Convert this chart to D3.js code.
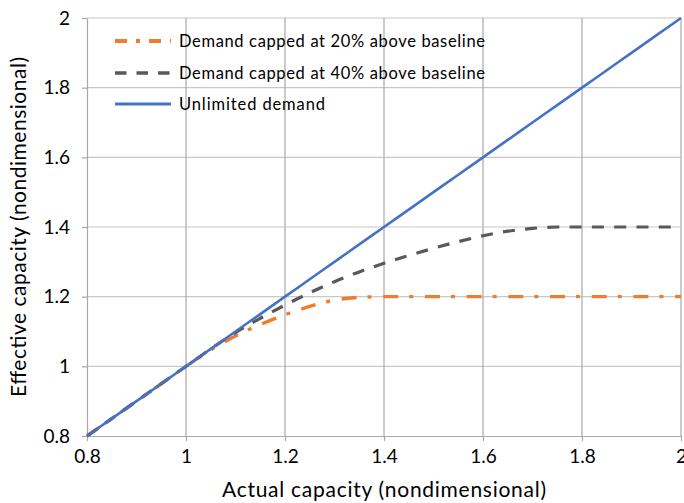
<!DOCTYPE html>
<html>
<head>
<meta charset="utf-8">
<script src="https://cdn.jsdelivr.net/npm/d3@7/dist/d3.min.js"></script>
<style>
  html, body { margin: 0; padding: 0; background: #fff; }
  svg { display: block; font-family: Lato, "Open Sans", sans-serif; }
</style>
</head>
<body>
<svg id="chart" width="684" height="503"></svg>
<script>
// Actual capacity (x) sampled every 0.05
const actualCapacity = [0.8, 0.85, 0.9, 0.95, 1.0, 1.05, 1.1, 1.15, 1.2, 1.25, 1.3, 1.35, 1.4, 1.45, 1.5, 1.55, 1.6, 1.65, 1.7, 1.75, 1.8, 1.85, 1.9, 1.95, 2.0];
// Effective capacity for each demand scenario
const capped20 = [0.8, 0.85, 0.9, 0.95, 1.0, 1.047, 1.087, 1.12, 1.148, 1.172, 1.19, 1.198, 1.2, 1.2, 1.2, 1.2, 1.2, 1.2, 1.2, 1.2, 1.2, 1.2, 1.2, 1.2, 1.2];
const capped40 = [0.8, 0.85, 0.9, 0.95, 1.0, 1.05, 1.097, 1.138, 1.176, 1.211, 1.243, 1.271, 1.296, 1.318, 1.339, 1.358, 1.375, 1.388, 1.396, 1.4, 1.4, 1.4, 1.4, 1.4, 1.4];
const unlimited = [0.8, 0.85, 0.9, 0.95, 1.0, 1.05, 1.1, 1.15, 1.2, 1.25, 1.3, 1.35, 1.4, 1.45, 1.5, 1.55, 1.6, 1.65, 1.7, 1.75, 1.8, 1.85, 1.9, 1.95, 2.0];

const xTicks = [0.8, 1, 1.2, 1.4, 1.6, 1.8, 2];
const yTicks = [0.8, 1, 1.2, 1.4, 1.6, 1.8, 2];
const seriesNames = ["Demand capped at 20% above baseline", "Demand capped at 40% above baseline", "Unlimited demand"];

const series = [
  { name: seriesNames[0], values: capped20, color: "#ED7D31", width: 3.4, dash: "15,11,4,11.7", legendDash: "12,9,4,9" },
  { name: seriesNames[1], values: capped40, color: "#595959", width: 3.2, dash: "12,10.3", legendDash: "11.5,10" },
  { name: seriesNames[2], values: unlimited, color: "#4472C4", width: 2.6, dash: null, legendDash: null }
];

const svg = d3.select("#chart");
const plot = { left: 87, right: 681, top: 18, bottom: 436 };

const x = d3.scaleLinear().domain([0.8, 2]).range([plot.left, plot.right]);
const y = d3.scaleLinear().domain([0.8, 2]).range([plot.bottom, plot.top]);

// Grid
svg.append("g")
  .selectAll("line")
  .data(yTicks.slice(1))
  .join("line")
  .attr("x1", plot.left).attr("x2", plot.right)
  .attr("y1", d => y(d)).attr("y2", d => y(d))
  .attr("stroke", "#c8c8c8").attr("stroke-width", 1.2);

svg.append("g")
  .selectAll("line")
  .data(xTicks.slice(1))
  .join("line")
  .attr("x1", d => x(d)).attr("x2", d => x(d))
  .attr("y1", plot.top).attr("y2", plot.bottom)
  .attr("stroke", "#a8a8a8").attr("stroke-width", 1.2);

// Axes
const fmt = d => String(+d.toFixed(1));
const xAxis = svg.append("g")
  .attr("transform", `translate(0,${plot.bottom})`)
  .call(d3.axisBottom(x).tickValues(xTicks).tickFormat(fmt).tickSizeInner(5).tickSizeOuter(0).tickPadding(9));
const yAxis = svg.append("g")
  .attr("transform", `translate(${plot.left},0)`)
  .call(d3.axisLeft(y).tickValues(yTicks).tickFormat(fmt).tickSizeInner(5).tickSizeOuter(0).tickPadding(12));

[xAxis, yAxis].forEach(g => {
  g.select(".domain").attr("stroke", "#a8a8a8").attr("stroke-width", 1.2);
  g.selectAll(".tick line").attr("stroke", "#a8a8a8").attr("stroke-width", 1.2);
  g.selectAll(".tick text")
    .attr("fill", "#000")
    .style("font-family", "Lato, 'Open Sans', sans-serif")
    .style("font-size", "19px");
});

// Lines
const line = d3.line()
  .x((d, i) => x(actualCapacity[i]))
  .y(d => y(d))
  .curve(d3.curveMonotoneX);

series.forEach(s => {
  svg.append("path")
    .datum(s.values)
    .attr("fill", "none")
    .attr("stroke", s.color)
    .attr("stroke-width", s.width)
    .attr("stroke-dasharray", s.dash)
    .attr("d", line);
});

// Legend
const legend = svg.append("g");
const legendRows = [41, 73, 104];
const legendWidths = [306, 306, 146];
series.forEach((s, i) => {
  const row = legend.append("g").attr("transform", `translate(0,${legendRows[i]})`);
  row.append("line")
    .attr("x1", 115).attr("x2", 171)
    .attr("y1", 0).attr("y2", 0)
    .attr("stroke", s.color)
    .attr("stroke-width", s.width + 0.4)
    .attr("stroke-dasharray", s.legendDash);
  row.append("text")
    .attr("x", 179).attr("y", 0)
    .attr("dy", "0.36em")
    .style("font-size", "16.5px")
    .attr("textLength", legendWidths[i])
    .attr("lengthAdjust", "spacing")
    .attr("fill", "#000")
    .text(s.name);
});

// Axis titles
svg.append("text")
  .attr("x", (plot.left + plot.right) / 2)
  .attr("y", 497)
  .attr("text-anchor", "middle")
  .style("font-size", "21px")
  .attr("textLength", 324)
  .attr("lengthAdjust", "spacing")
  .text("Actual capacity (nondimensional)");

svg.append("text")
  .attr("transform", `translate(26,${(plot.top + plot.bottom) / 2}) rotate(-90)`)
  .attr("text-anchor", "middle")
  .style("font-size", "21px")
  .attr("textLength", 340)
  .attr("lengthAdjust", "spacing")
  .text("Effective capacity (nondimensional)");
</script>
</body>
</html>
